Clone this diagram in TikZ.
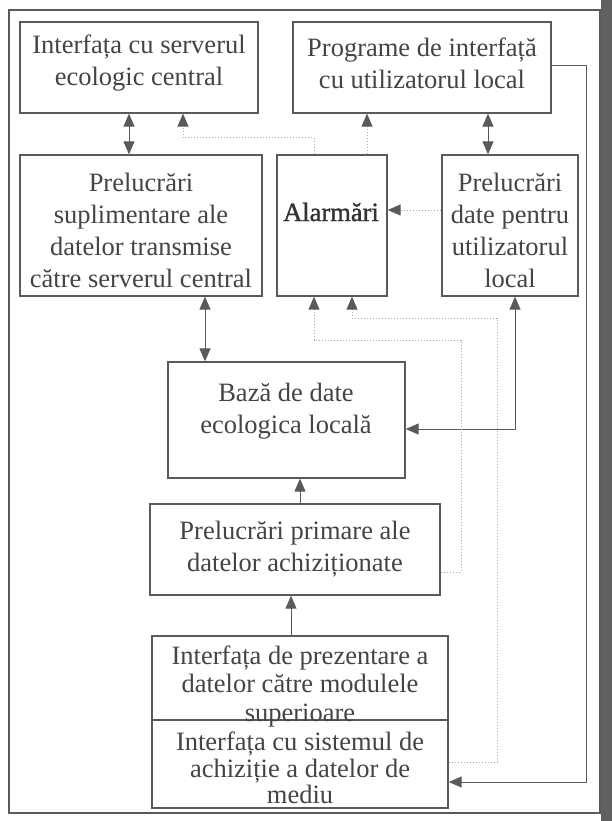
\documentclass[tikz,border=0pt]{standalone}
\usepackage{fontspec}
\setmainfont{Liberation Serif}
\newfontfamily\heavyserif[FakeBold=1.3]{Liberation Serif}
\usetikzlibrary{arrows.meta}
\definecolor{ink}{HTML}{444444}
\definecolor{rule}{HTML}{5A5A5A}
\definecolor{faint}{HTML}{ABABAB}
\tikzset{
  box/.style={draw=rule, line width=1.3pt, inner sep=0pt},
  lbl/.style={text=ink, align=center, inner sep=0pt, font=\fontsize{26.5}{32}\selectfont},
  link/.style={draw=rule, line width=1pt, -{Triangle[width=11pt,length=13pt]}, color=rule},
  both/.style={draw=rule, line width=1pt, {Triangle[width=11pt,length=13pt]}-{Triangle[width=11pt,length=13pt]}, color=rule},
  signal/.style={draw=faint, line width=1pt, dotted, -{Triangle[width=11pt,length=13pt,fill=rule,color=rule]}},
}
\newcommand{\boxat}[5]{% name, x1, y1, x2, y2
  \node[box, minimum width={#4-#2}, minimum height={#5-#3}] (#1) at ({(#2+#4)/2},{(#3+#5)/2}) {};}
\begin{document}
\begin{tikzpicture}[x=1pt, y=-1pt]
  \useasboundingbox (0,0) rectangle (612,821);
  \fill[white] (0,0) rectangle (612,821);
  % scanner shadow along the right edge
  \fill[gray!75!black] (601,0) rectangle (612,821);
  % outer frame
  \node[box, line width=1.2pt, minimum width=591pt, minimum height=803pt] (frame) at (304.5,411.5) {};

  % boxes
  \boxat{srv}{20}{22}{258}{113}
  \boxat{prog}{293}{22}{551}{113}
  \boxat{sup}{20}{155}{262}{296}
  \boxat{alarm}{277}{155}{387}{296}
  \boxat{loc}{442}{155}{578}{296}
  \boxat{db}{168}{362}{405}{478}
  \boxat{prim}{150}{504}{440}{595}
  \boxat{pres}{152}{636}{448}{720}
  \boxat{acq}{152}{720}{448}{808}

  % texts
  \node[lbl] (tsrv) at (139,63) {Interfața cu serverul\\ecologic central};
  \node[lbl] (tprog) at (422,63) {Programe de interfață\\cu utilizatorul local};
  \node[lbl] (tsup) at (141,230) {Prelucrări\\suplimentare ale\\datelor transmise\\către serverul central};
  \node[lbl, text=black!80, font=\heavyserif\fontsize{26.5}{32}\selectfont] (talarm) at (331,212) {Alarmări};
  \node[lbl] (tloc) at (510,230) {Prelucrări\\date pentru\\utilizatorul\\local};
  \node[lbl] (tdb) at (286,411) {Bază de date\\ecologica locală};
  \node[lbl] (tprim) at (295,549) {Prelucrări primare ale\\datelor achiziționate};
  \node[lbl, font=\fontsize{26.5}{28.5}\selectfont] (tpres) at (300,686) {Interfața de prezentare a\\datelor către modulele\\superioare};
  \node[lbl, font=\fontsize{26.5}{26.5}\selectfont] (tacq) at (300,768) {Interfața cu sistemul de\\achiziție a datelor de\\mediu};

  % bends of the connectors
  \coordinate (r1) at (586,66);
  \coordinate (r2) at (586,782);
  \coordinate (a1) at (183,138);
  \coordinate (a2) at (314,138);
  \coordinate (p1) at (461,572);
  \coordinate (p2) at (461,340);
  \coordinate (p3) at (314,340);
  \coordinate (q1) at (497,762);
  \coordinate (q2) at (497,318);
  \coordinate (q3) at (352,318);
  \coordinate (d1) at (515,429);

  % solid connectors
  \draw[both] (srv.south -| 129,0) -- (sup.north -| 129,0);
  \draw[both] (prog.south -| 488,0) -- (loc.north -| 488,0);
  \draw[both] (sup.south -| 205,0) -- (db.north -| 205,0);
  \draw[both] (loc.south -| d1) -- (d1) -- (db.east |- d1);
  \draw[link] (prim.north -| 300,0) -- (db.south -| 300,0);
  \draw[link] (pres.north -| 291,0) -- (prim.south -| 291,0);
  \draw[link] (prog.east |- r1) -- (r1) -- (r2) -- (acq.east |- r2);

  % alarm signals (dotted)
  \draw[signal] (alarm.north -| a2) -- (a2) -- (a1) -- (srv.south -| a1);
  \draw[signal] (alarm.north -| 367,0) -- (prog.south -| 367,0);
  \draw[signal] (loc.west |- 0,210) -- (alarm.east |- 0,210);
  \draw[signal] (prim.east |- p1) -- (p1) -- (p2) -- (p3) -- (alarm.south -| p3);
  \draw[signal] (acq.east |- q1) -- (q1) -- (q2) -- (q3) -- (alarm.south -| q3);
\end{tikzpicture}
\end{document}
